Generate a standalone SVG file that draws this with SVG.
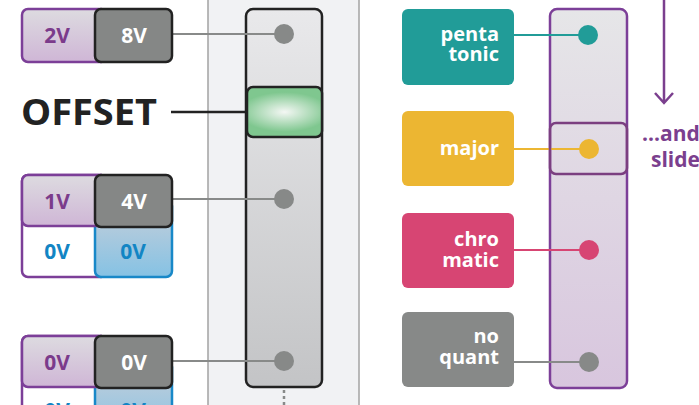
<svg xmlns="http://www.w3.org/2000/svg" width="699" height="405" viewBox="0 0 699 405">
<defs>
<linearGradient id="gSlider" x1="0" y1="0" x2="0" y2="1"><stop offset="0" stop-color="#e9e9eb"/><stop offset="1" stop-color="#c3c4c6"/></linearGradient>
<linearGradient id="gPSlider" x1="0" y1="0" x2="0" y2="1"><stop offset="0" stop-color="#e6e6e8"/><stop offset="1" stop-color="#d8c6de"/></linearGradient>
<linearGradient id="gPurple" x1="0" y1="0" x2="0" y2="1"><stop offset="0" stop-color="#dddbe0"/><stop offset="1" stop-color="#cfb6d6"/></linearGradient>
<linearGradient id="gBlue" x1="0" y1="0" x2="0" y2="1"><stop offset="0" stop-color="#c9cfd9"/><stop offset="1" stop-color="#85c2e4"/></linearGradient>
<radialGradient id="gGreen" cx="0.5" cy="0.5" r="0.6" gradientTransform="translate(0.5 0.5) scale(1 0.66) translate(-0.5 -0.5)"><stop offset="0" stop-color="#f4f7f4"/><stop offset="1" stop-color="#7fc78f"/></radialGradient>
<style>
.lbl{font-family:"Open Sans","Liberation Sans",sans-serif;font-weight:bold;font-size:21px}
.rl{font-size:20px}
.pbox{fill:url(#gPurple);stroke:#7c3f98;stroke-width:2.5}
.wbox{fill:#fff;stroke:#7c3f98;stroke-width:2.5}
.bbox{fill:url(#gBlue);stroke:#1888c8;stroke-width:2.5}
.dbox{fill:#858786;stroke:#222;stroke-width:2.5}
.ptx{fill:#7b3b8b;text-anchor:middle}
.btx{fill:#1285c4;text-anchor:middle}
.wtx{fill:#fff;text-anchor:middle}
.rtx{fill:#fff;text-anchor:end}
.gl{stroke:#888a89;stroke-width:2}
</style>
</defs>
<rect x="0" y="0" width="699" height="405" fill="#fff"/>
<g id="panel"><rect x="208" y="-3" width="151" height="412" fill="#f1f2f4" stroke="#a3a3a3" stroke-width="1.5"/></g>

<g id="slider-offset">
<rect x="246" y="9" width="76" height="378" rx="7" fill="url(#gSlider)" stroke="#222" stroke-width="2.5"/>
</g>
<g id="slider-quant">
<rect x="550" y="9" width="77" height="379" rx="7" fill="url(#gPSlider)" stroke="#7c3f98" stroke-width="2.5"/>
</g>

<g id="connectors">
<line class="gl" x1="172" y1="34" x2="284" y2="34"/>
<line class="gl" x1="172" y1="199" x2="284" y2="199"/>
<line class="gl" x1="172" y1="361" x2="284" y2="361"/>
<line x1="171" y1="112" x2="247" y2="112" stroke="#222" stroke-width="2.5"/>
<line x1="284" y1="390" x2="284" y2="405" stroke="#888a89" stroke-width="2.5" stroke-dasharray="3 3"/>
<line x1="514" y1="35" x2="588" y2="35" stroke="#219c98" stroke-width="2"/>
<line x1="514" y1="149" x2="589" y2="149" stroke="#ecb632" stroke-width="2"/>
<line x1="514" y1="250" x2="589" y2="250" stroke="#d74573" stroke-width="2"/>
<line x1="514" y1="362" x2="589" y2="362" stroke="#888a89" stroke-width="2"/>
<path d="M664 -2 V103 M655 93 L664 103 L673 93" fill="none" stroke="#7b3f8e" stroke-width="2.5"/>
</g>

<g id="dots">
<circle cx="284" cy="34" r="10" fill="#878988"/>
<circle cx="284" cy="199" r="10" fill="#878988"/>
<circle cx="284" cy="361" r="10" fill="#878988"/>
<circle cx="588" cy="35" r="10" fill="#219c98"/>
<circle cx="589" cy="149" r="10" fill="#ecb632"/>
<circle cx="589" cy="250" r="10" fill="#d74573"/>
<circle cx="589" cy="362" r="10" fill="#878988"/>
</g>

<g id="knob-offset"><rect x="247" y="87" width="75" height="50" rx="6" fill="url(#gGreen)" stroke="#222" stroke-width="2.5"/></g>
<g id="knob-quant"><rect x="550" y="123" width="77" height="51" rx="6" fill="none" stroke="#7b3f80" stroke-width="2.5"/></g>
<g id="label-offset"><text x="21" y="125" font-family="'Open Sans','Liberation Sans',sans-serif" font-weight="bold" font-size="35" fill="#222" textLength="136" lengthAdjust="spacingAndGlyphs">OFFSET</text></g>

<g id="pair-8v">
<rect class="pbox" x="22" y="9" width="85" height="53" rx="6"/>
<rect class="dbox" x="95" y="9" width="77" height="53" rx="6"/>
<text class="lbl ptx" x="57" y="43">2V</text>
<text class="lbl wtx" x="134" y="43">8V</text>
</g>

<g id="pair-4v">
<rect class="wbox" x="22" y="175" width="85" height="102" rx="6"/>
<rect class="bbox" x="95" y="200" width="77" height="77" rx="6"/>
<rect class="pbox" x="22" y="175" width="85" height="51" rx="6"/>
<rect class="dbox" x="95" y="175" width="77" height="52" rx="6"/>
<text class="lbl ptx" x="57" y="209">1V</text>
<text class="lbl wtx" x="134" y="209">4V</text>
<text class="lbl btx" x="57" y="259">0V</text>
<text class="lbl btx" x="133" y="259">0V</text>
</g>

<g id="pair-0v">
<rect class="wbox" x="22" y="336" width="85" height="102" rx="6"/>
<rect class="bbox" x="95" y="361" width="77" height="77" rx="6"/>
<rect class="pbox" x="22" y="336" width="85" height="51" rx="6"/>
<rect class="dbox" x="95" y="336" width="77" height="52" rx="6"/>
<text class="lbl ptx" x="57" y="370">0V</text>
<text class="lbl wtx" x="134" y="370">0V</text>
<text class="lbl btx" x="57" y="418">0V</text>
<text class="lbl btx" x="133" y="418">0V</text>
</g>

<g id="box-penta"><rect x="402" y="9" width="112" height="76" rx="6" fill="#219c98"/>
<text class="lbl rl rtx" x="499" y="41">penta</text><text class="lbl rl rtx" x="499" y="61">tonic</text></g>
<g id="box-major"><rect x="402" y="111" width="112" height="75" rx="6" fill="#ecb632"/>
<text class="lbl rl rtx" x="499" y="155">major</text></g>
<g id="box-chromatic"><rect x="402" y="213" width="112" height="75" rx="6" fill="#d74573"/>
<text class="lbl rl rtx" x="499" y="246">chro</text><text class="lbl rl rtx" x="499" y="267">matic</text></g>
<g id="box-noquant"><rect x="402" y="312" width="112" height="75" rx="6" fill="#878988"/>
<text class="lbl rl rtx" x="499" y="343">no</text><text class="lbl rl rtx" x="499" y="364">quant</text></g>

<g id="note"><text class="lbl" fill="#7b3f8e" x="642" y="141">...and</text><text class="lbl" fill="#7b3f8e" x="651" y="167">slide</text></g>
</svg>
